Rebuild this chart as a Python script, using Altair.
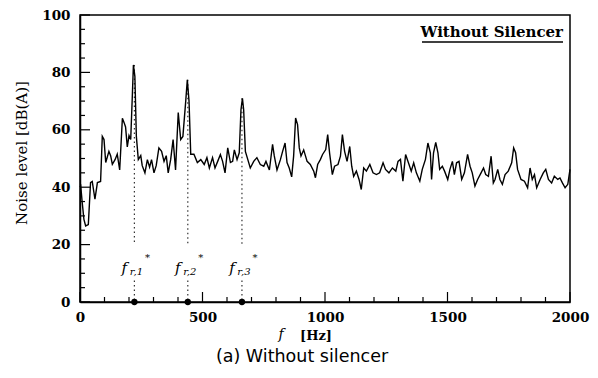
import altair as alt
import pandas as pd

# ---- data ----
freq = [0, 3, 9, 16, 23, 34, 43, 50, 61, 71, 84, 91, 98, 105, 118, 125, 132, 143, 152, 162,
        173, 180, 186, 193, 200, 207, 214, 218, 224, 230, 238, 248, 254, 265, 275, 284, 292,
        302, 311, 322, 333, 343, 352, 360, 370, 380, 390, 401, 411, 420, 431, 438, 445, 452,
        465, 479, 493,
        507, 518, 528, 541, 551, 562, 573, 582, 592, 603, 614, 623, 630, 641, 650, 657, 663,
        668, 675, 685, 695, 709, 722, 736, 750, 759, 773, 786, 793, 804, 818, 827, 837, 845,
        854, 864, 872, 880, 888, 895, 902, 913, 927, 940, 954, 961, 970, 981, 990,
        1003, 1011, 1019, 1030, 1039, 1053, 1063, 1071, 1080, 1090, 1101, 1109, 1117, 1128,
        1139, 1148, 1158, 1169, 1183, 1196, 1210, 1223, 1237, 1247, 1261, 1275, 1289, 1298,
        1308, 1318, 1329, 1343, 1352, 1362, 1373, 1387, 1397, 1410, 1420, 1430, 1435, 1443,
        1452, 1461, 1468, 1479, 1488,
        1501, 1510, 1520, 1528, 1537, 1547, 1558, 1569, 1582, 1592, 1601, 1612, 1623, 1637,
        1647, 1656, 1667, 1678, 1687, 1694, 1705, 1714, 1724, 1735, 1748, 1762, 1770, 1778,
        1786, 1800, 1814, 1827, 1837, 1846, 1855, 1864, 1878, 1891, 1901, 1912, 1925, 1936,
        1950, 1959, 1969, 1980, 1991, 2000]
level = [40, 40.4, 34.7, 28.8, 26.5, 27, 41.6, 42, 35.8, 41.6, 42, 57.7, 56.6, 48.6, 52.5, 51,
         48, 49.6, 51.5, 46,
         64, 62.5, 61, 54, 58, 56.6, 72.8, 82.6, 78.6, 57.7, 49.6, 51, 47.5, 45, 49.6, 47, 49.6,
         45, 47.5, 53.7, 52.5, 49, 51, 45, 49.6, 56.6, 46, 66, 56.6, 57.7, 69.4, 77.4, 70, 51.5,
         51.5, 48.6, 49.6,
         47.9, 50.3, 46.7, 50.3, 46.7, 49, 51.4, 49, 45, 53.7, 48.6, 49, 53, 49.6, 52, 67, 71,
         67, 52.5, 49.6, 46.7, 49, 50.3, 47.9, 47.3, 49, 46, 54.9, 50.9, 46, 49.6, 52.5, 55.4, 48.6,
         46.7, 43.6, 50.9, 64.1, 61.8, 53.7, 50.9, 53, 49, 47.9, 45.6, 43.3, 47.9, 49.6, 51.4,
         53.1, 58.3, 51.7, 44.4, 47.3, 47.9, 50.8, 58.3, 52.5, 49, 54.2, 47.3, 43.8, 45.6,
         42.7, 39.2, 46.7, 45.6, 47.9, 45, 44.4, 45, 48.5, 46.2, 45, 46.7, 45.6, 49,
         49.7, 42.1, 51.4, 47.9, 45.6, 48.5, 45, 42.1, 46.2, 49.7, 55.4, 52, 42.7, 52,
         55.6, 52, 46.2, 47.3, 45.6,
         42.7, 46.2, 49, 44.4, 48.5, 49, 42.7, 45, 51.4, 47.3, 45, 40.4, 42.7, 45,
         46.7, 44.4, 43.8, 50.8, 41.5, 42.7, 46.2, 42.7, 41, 44.4, 45.6, 48.5, 53.7, 52,
         46.2, 42.7, 42.1, 39.8, 46.7, 42.7, 44.4, 39.8, 42.7, 45, 46.2, 42.7, 41.5, 43.8,
         42.7, 43.2, 41.5, 39.8, 41, 46.2]

fr_freq = [222, 440, 661]
fr_peak = [82.6, 77.4, 71.0]
fr_sub = ["r,1", "r,2", "r,3"]

x_labels = [0, 500, 1000, 1500, 2000]
y_labels = [0, 20, 40, 60, 80, 100]
x_minor = list(range(0, 2001, 100))
y_minor = list(range(0, 101, 5))

W, H = 490, 287

curve = pd.DataFrame({"f": freq, "L": level})
fr = pd.DataFrame({"f": fr_freq, "peak": fr_peak, "sub": fr_sub,
                   "gap_top": 20, "gap_bot": 7.5, "zero": 0, "lab": 12})

xs = alt.Scale(domain=[0, 2000], nice=False, zero=False)
ys = alt.Scale(domain=[0, 100], nice=False, zero=False)

SERIF = "DejaVu Serif"

line = alt.Chart(curve).mark_line(color="black", strokeWidth=1.4).encode(
    x=alt.X("f:Q", scale=xs, axis=alt.Axis(
        values=x_labels, ticks=False, grid=False, labelFont=SERIF, labelFontWeight="bold",
        labelFontSize=13.5, labelColor="black", labelPadding=8, labelFlush=False,
        domainColor="black", domainWidth=1.5, title=None, format="d")),
    y=alt.Y("L:Q", scale=ys, axis=alt.Axis(
        values=y_labels, ticks=False, grid=False, labelFont=SERIF, labelFontWeight="bold",
        labelFontSize=13.5, labelColor="black", labelPadding=10, labelFlush=False,
        domainColor="black", domainWidth=1.5, title=None, format="d")),
)

# inward ticks
xt_df = pd.DataFrame({"v": x_minor})
xt_df["major"] = xt_df["v"].isin(x_labels)
yt_df = pd.DataFrame({"v": y_minor})
yt_df["major"] = yt_df["v"].isin(y_labels)

xminor = alt.Chart(xt_df[~xt_df.major]).mark_rule(color="black", strokeWidth=1.2).encode(
    x=alt.X("v:Q", scale=xs), y=alt.value(H), y2=alt.value(H - 5))
xmajor = alt.Chart(xt_df[xt_df.major]).mark_rule(color="black", strokeWidth=1.2).encode(
    x=alt.X("v:Q", scale=xs), y=alt.value(H), y2=alt.value(H - 10))
yminor = alt.Chart(yt_df[~yt_df.major]).mark_rule(color="black", strokeWidth=1.2).encode(
    y=alt.Y("v:Q", scale=ys), x=alt.value(0), x2=alt.value(5))
ymajor = alt.Chart(yt_df[yt_df.major]).mark_rule(color="black", strokeWidth=1.2).encode(
    y=alt.Y("v:Q", scale=ys), x=alt.value(0), x2=alt.value(10))

base_fr = alt.Chart(fr)
dot_top = base_fr.mark_rule(color="#333333", strokeWidth=1.2, strokeDash=[1.5, 3]).encode(
    x=alt.X("f:Q", scale=xs), y=alt.Y("peak:Q", scale=ys), y2="gap_top:Q")
dot_bot = base_fr.mark_rule(color="#333333", strokeWidth=1.2, strokeDash=[1.5, 3]).encode(
    x=alt.X("f:Q", scale=xs), y=alt.Y("gap_bot:Q", scale=ys), y2="zero:Q")
dots = base_fr.mark_circle(color="black", size=40, opacity=1).encode(
    x=alt.X("f:Q", scale=xs), y=alt.Y("zero:Q", scale=ys))
lab_f = base_fr.mark_text(font=SERIF, fontStyle="italic", fontSize=15, dx=-10,
                          color="black").encode(
    x=alt.X("f:Q", scale=xs), y=alt.Y("lab:Q", scale=ys), text=alt.value("f"))
lab_sub = base_fr.mark_text(font=SERIF, fontStyle="italic", fontSize=10, dx=2, dy=4,
                            color="black").encode(
    x=alt.X("f:Q", scale=xs), y=alt.Y("lab:Q", scale=ys), text="sub:N")
lab_star = base_fr.mark_text(font=SERIF, fontSize=10, dx=13, dy=-10, color="black").encode(
    x=alt.X("f:Q", scale=xs), y=alt.Y("lab:Q", scale=ys), text=alt.value("*"))

# decorations / titles
deco = pd.DataFrame({"a": [0]})
box_text = alt.Chart(deco).mark_text(font=SERIF, fontWeight="bold", fontSize=15, align="right",
                                     baseline="middle", color="black").encode(
    x=alt.value(W - 7), y=alt.value(17), text=alt.value("Without Silencer"))
box_line = alt.Chart(deco).mark_rule(color="black", strokeWidth=1.3).encode(
    x=alt.value(W - 148), x2=alt.value(W - 7), y=alt.value(27))
ytitle = alt.Chart(deco).mark_text(font=SERIF, fontSize=15, angle=270, baseline="middle",
                                   color="black").encode(
    x=alt.value(-58), y=alt.value(138), text=alt.value("Noise level  [dB(A)]"))
xt_f = alt.Chart(deco).mark_text(font=SERIF, fontStyle="italic", fontSize=14, color="black",
                                 baseline="middle").encode(
    x=alt.value(201), y=alt.value(320), text=alt.value("f"))
xt_hz = alt.Chart(deco).mark_text(font=SERIF, fontWeight="bold", fontSize=13, color="black",
                                  baseline="middle").encode(
    x=alt.value(236), y=alt.value(321), text=alt.value("[Hz]"))
caption = alt.Chart(deco).mark_text(font="DejaVu Sans", fontSize=17.5, color="black",
                                    baseline="middle").encode(
    x=alt.value(222), y=alt.value(342), text=alt.value("(a) Without silencer"))

chart = alt.layer(
    dot_top, dot_bot, line, xminor, xmajor, yminor, ymajor, dots, lab_f, lab_sub, lab_star,
    box_text, box_line, ytitle, xt_f, xt_hz, caption
).properties(
    width=W, height=H, autosize="none",
    padding={"left": 80, "top": 15, "right": 28, "bottom": 76},
    background="white",
).configure_view(stroke="black", strokeWidth=1.5)

chart.save("out.html", embed_options={"renderer": "svg", "actions": False})
